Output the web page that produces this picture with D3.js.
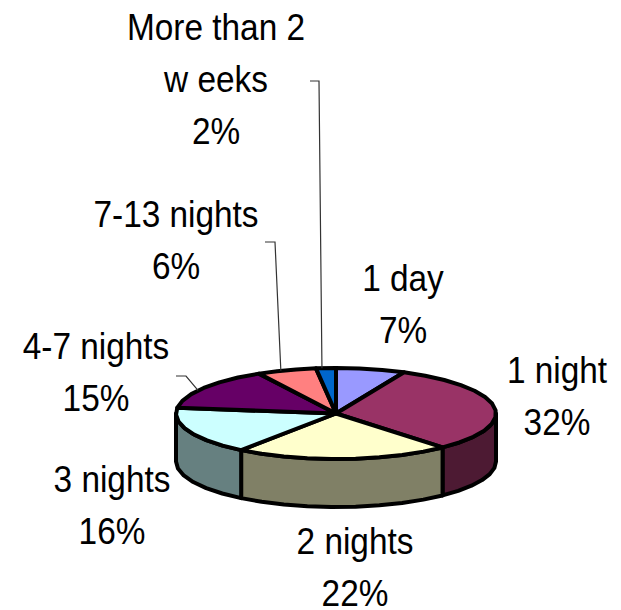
<!DOCTYPE html>
<html><head><meta charset="utf-8">
<script src="https://cdnjs.cloudflare.com/ajax/libs/d3/7.8.5/d3.min.js"></script>
<style>html,body{margin:0;padding:0;background:#fff;overflow:hidden}svg{display:block}text{font-family:"Liberation Sans",Arial,sans-serif;font-size:37.5px;fill:#000;text-anchor:middle}</style>
</head><body><svg id="c" width="621" height="610"></svg>
<script>
const categories=["1 day","1 night","2 nights","3 nights","4-7 nights","7-13 nights","More than 2 weeks"];
const values=[7,31.4,21.7,16.9,15,6,2];
const percentLabels=["7%","32%","22%","16%","15%","6%","2%"];
const topColors=["#9999FF","#993366","#FFFFCC","#CCFFFF","#660066","#FF8080","#0066CC"];
const sideColors=["#4D4D80","#4D1A33","#808066","#668080","#330033","#804040","#003366"];
const labelLines=[["1 day"],["1 night"],["2 nights"],["3 nights"],["4-7 nights"],["7-13 nights"],["More than 2","w eeks"]];
const labelX=[403,557,355,112,96,176,216];
const labelY=[291,383,554,492,359,227,40];
const lineGap=52.2;
const textScaleX=0.89;
const leaderElbows=[null,null,null,null,[[176,376],[186,376]],[[265,242],[275,242]],[[310,81],[319,81]]];
const leaderFraction=[0,0,0,0,0.43,0.4,0.3];

const cx=336,cy=413.5,rx=160,ry=45.5,depth=48,segDeg=8.5;
const svg=d3.select("#c");
const sx=d3.scaleLinear().domain([-1,1]).range([cx-rx,cx+rx]);
const sy=d3.scaleLinear().domain([-1,1]).range([cy+ry,cy-ry]);
const line=d3.line();
const pie=d3.pie().sort(null).value(d=>d).startAngle(0).endAngle(2*Math.PI);
const arcs=pie(values);
const pt=(a,dy=0)=>[sx(Math.sin(a)),sy(Math.cos(a))+dy];
function sample(a0,a1){
  const step=segDeg*Math.PI/180,n=Math.max(1,Math.round((a1-a0)/step));
  return d3.range(n+1).map(i=>a0+(a1-a0)*i/n);
}
const front=[Math.PI/2,3*Math.PI/2];
svg.append("g").selectAll("path").data(arcs.filter(d=>d.endAngle>front[0]&&d.startAngle<front[1])).join("path")
  .attr("d",d=>{
    const s=sample(Math.max(d.startAngle,front[0]),Math.min(d.endAngle,front[1]));
    return line([...s.map(a=>pt(a)),...s.slice().reverse().map(a=>pt(a,depth))])+"Z";
  })
  .attr("fill",d=>sideColors[d.index]).attr("stroke","#000").attr("stroke-width",4).attr("stroke-linejoin","round");
svg.append("g").selectAll("path").data(arcs).join("path")
  .attr("d",d=>line([[sx(0),sy(0)],...sample(d.startAngle,d.endAngle).map(a=>pt(a))])+"Z")
  .attr("fill",d=>topColors[d.index]).attr("stroke","#000").attr("stroke-width",4).attr("stroke-linejoin","round");
svg.append("g").selectAll("path").data(arcs.filter(d=>leaderElbows[d.index])).join("path")
  .attr("d",d=>{
    const a=d.startAngle+(d.endAngle-d.startAngle)*leaderFraction[d.index];
    return line([...leaderElbows[d.index],pt(a)]);
  })
  .attr("fill","none").attr("stroke","#333").attr("stroke-width",1.2);
categories.forEach((c,i)=>{
  [...labelLines[i],percentLabels[i]].forEach((r,j)=>{
    svg.append("text")
      .attr("transform",`translate(${labelX[i]},${labelY[i]+j*lineGap}) scale(${textScaleX},1)`)
      .text(r);
  });
});
</script></body></html>
